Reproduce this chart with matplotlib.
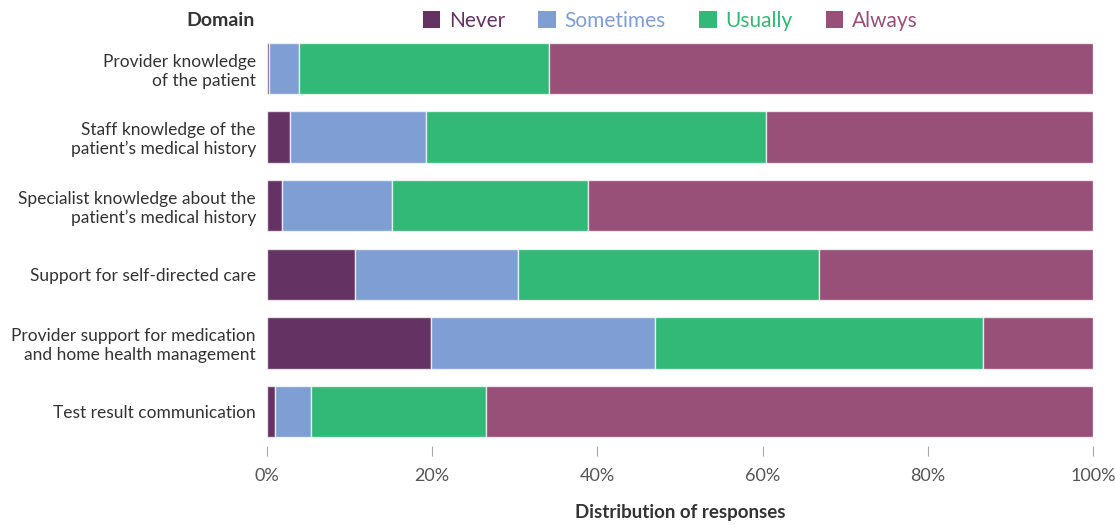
import matplotlib.pyplot as plt
from matplotlib.patches import Patch

domains = [
    "Provider knowledge\nof the patient",
    "Staff knowledge of the\npatient\u2019s medical history",
    "Specialist knowledge about the\npatient\u2019s medical history",
    "Support for self-directed care",
    "Provider support for medication\nand home health management",
    "Test result communication",
]
categories = ["Never", "Sometimes", "Usually", "Always"]
never = [0.3, 2.8, 1.8, 10.7, 19.9, 1.0]
sometimes = [3.6, 16.4, 13.3, 19.7, 27.1, 4.3]
usually = [30.2, 41.2, 23.8, 36.4, 39.7, 21.2]
always = [65.9, 39.6, 61.1, 33.2, 13.3, 73.5]
colors = ["#643364", "#7f9fd4", "#32b877", "#985078"]

plt.rcParams['font.family'] = ['Lato', 'DejaVu Sans']

fig = plt.figure(figsize=(11.15, 5.25), dpi=100)
ax = fig.add_axes([267 / 1115, 1 - 445.9 / 525, 826 / 1115, 411.7 / 525])

left = [0] * len(domains)
for vals, col in zip([never, sometimes, usually, always], colors):
    ax.barh(range(len(domains)), vals, left=left, height=0.75, color=col,
            edgecolor=(1, 1, 1, 0.7), linewidth=1)
    left = [a + b for a, b in zip(left, vals)]

ax.set_xlim(0, 100)
ax.set_ylim(5.5, -0.5)
ax.set_yticks(range(len(domains)))
ax.set_yticklabels(domains, fontsize=12.5, color="#333333")
ax.set_xticks([0, 20, 40, 60, 80, 100])
ax.set_xticklabels(["0%", "20%", "40%", "60%", "80%", "100%"], fontsize=13, color="#555555")
ax.tick_params(axis='y', length=0, pad=8)
ax.tick_params(axis='x', length=7, width=0.8, color="#aaaaaa", pad=9)
for s in ax.spines.values():
    s.set_visible(False)
ax.set_xlabel("Distribution of responses", fontsize=13.5, fontweight='bold', color="#333333", labelpad=14)

fig.text(255 / 1115, 1 - 21 / 525, "Domain", ha='right', va='center', fontsize=14,
         fontweight='bold', color="#333333")

handles = [Patch(facecolor=c, edgecolor='none') for c in colors]
leg = fig.legend(handles, categories, loc='center', bbox_to_anchor=(670 / 1115, 1 - 21 / 525),
                 ncol=4, frameon=False, fontsize=15, handlelength=0.85, handleheight=0.85,
                 handletextpad=0.4, columnspacing=1.6)
for t, c in zip(leg.get_texts(), colors):
    t.set_color(c)

fig.savefig("out.png", dpi=100)
